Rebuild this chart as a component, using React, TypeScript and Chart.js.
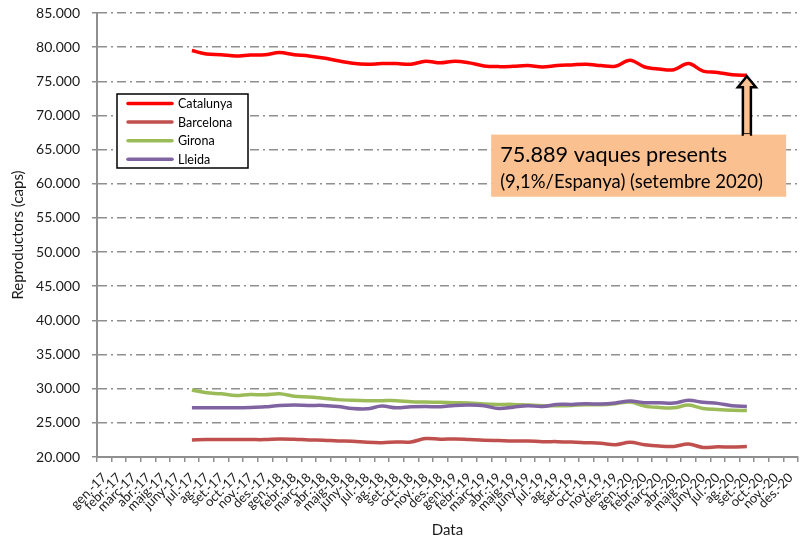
import React, { useEffect, useRef } from "react";
import { Chart, registerables } from "chart.js";

Chart.register(...registerables);

// ---- Data ----
const categories = [
  "gen.-17", "febr.-17", "març-17", "abr.-17", "maig-17", "juny-17", "jul.-17", "ag.-17", "set.-17", "oct.-17", "nov.-17", "des.-17",
  "gen.-18", "febr.-18", "març-18", "abr.-18", "maig-18", "juny-18", "jul.-18", "ag.-18", "set.-18", "oct.-18", "nov.-18", "des.-18",
  "gen.-19", "febr.-19", "març-19", "abr.-19", "maig-19", "juny-19", "jul.-19", "ag.-19", "set.-19", "oct.-19", "nov.-19", "des.-19",
  "gen.-20", "febr.-20", "març-20", "abr.-20", "maig-20", "juny-20", "jul.-20", "ag.-20", "set.-20", "oct.-20", "nov.-20", "des.-20",
];

// series start at jul.-17 (index 6) and end at set.-20 (index 44)
const FIRST_INDEX = 6;

const catalunya = [
  79500, 79000, 78900, 78700, 78850, 78900, 79200, 78900, 78700, 78400,
  78000, 77650, 77500, 77600, 77600, 77500, 77950, 77700, 77950, 77700,
  77250, 77150, 77200, 77300, 77100, 77300, 77400, 77500, 77300, 77200,
  78100, 77100, 76800, 76700, 77600, 76500, 76300, 75950, 75889,
];
const barcelona = [
  22500, 22550, 22550, 22550, 22550, 22550, 22650, 22600, 22500, 22450,
  22350, 22300, 22150, 22100, 22200, 22200, 22700, 22600, 22650, 22550,
  22450, 22400, 22350, 22350, 22250, 22250, 22200, 22100, 22000, 21800,
  22150, 21800, 21600, 21550, 21900, 21400, 21500, 21450, 21550,
];
const girona = [
  29800, 29400, 29250, 29000, 29150, 29100, 29250, 28900, 28800, 28600,
  28400, 28300, 28250, 28250, 28250, 28100, 28050, 28000, 27950, 27900,
  27750, 27700, 27700, 27600, 27500, 27500, 27550, 27650, 27650, 27800,
  28050, 27450, 27250, 27200, 27600, 27100, 26950, 26850, 26800,
];
const lleida = [
  27200, 27200, 27200, 27200, 27250, 27350, 27550, 27600, 27550, 27550,
  27400, 27100, 27050, 27450, 27200, 27350, 27400, 27350, 27550, 27600,
  27500, 27100, 27300, 27500, 27400, 27700, 27700, 27800, 27750, 27900,
  28200, 27950, 27950, 27900, 28300, 28000, 27850, 27500, 27400,
];

const seriesNames = ["Catalunya", "Barcelona", "Girona", "Lleida"];
const seriesColors = ["#FF0000", "#C0504D", "#9BBB59", "#8064A2"];
const seriesValues = [catalunya, barcelona, girona, lleida];

const Y_MIN = 20000;
const Y_MAX = 85000;
const Y_STEP = 5000;

const annotationLines = ["75.889 vaques presents", "(9,1%/Espanya) (setembre 2020)"];
// annotation box in data space (category index / value)
const ANNOT_BOX = { x0: 26.49, x1: 46.69, yTop: 67200, yBottom: 58100 };
const ANNOT_TARGET_INDEX = FIRST_INDEX + catalunya.length - 1;

const FONT = "Lato, 'Open Sans', sans-serif";

function pad(values: number[]): (number | null)[] {
  const out: (number | null)[] = categories.map(() => null);
  values.forEach((v, i) => (out[FIRST_INDEX + i] = v));
  return out;
}

function fmt(v: number): string {
  const th = Math.floor(v / 1000);
  const rest = Math.round(v % 1000);
  return `${th}.${String(rest).padStart(3, "0")}`;
}

const overlayPlugin = {
  id: "overlay",
  afterDraw(chart: any) {
    const { ctx, chartArea, scales } = chart;
    const xs = scales.x;
    const ys = scales.y;
    ctx.save();

    // Legend box
    const lx = chartArea.left + 20;
    const ly = chartArea.top + 81;
    const lw = 131;
    const lh = 74;
    ctx.fillStyle = "#ffffff";
    ctx.fillRect(lx, ly, lw, lh);
    ctx.lineWidth = 1.5;
    ctx.strokeStyle = "#000000";
    ctx.strokeRect(lx, ly, lw, lh);
    ctx.font = `12.5px ${FONT}`;
    ctx.textBaseline = "middle";
    ctx.textAlign = "left";
    chart.data.datasets.forEach((ds: any, k: number) => {
      const cy = ly + 9.5 + k * 18.6;
      ctx.strokeStyle = ds.borderColor;
      ctx.lineWidth = 3.5;
      ctx.lineCap = "round";
      ctx.beginPath();
      ctx.moveTo(lx + 11, cy);
      ctx.lineTo(lx + 55, cy);
      ctx.stroke();
      ctx.fillStyle = "#000000";
      ctx.fillText(ds.label, lx + 61, cy + 0.5);
    });

    // Annotation box
    const bx0 = xs.getPixelForValue(ANNOT_BOX.x0);
    const bx1 = xs.getPixelForValue(ANNOT_BOX.x1);
    const by0 = ys.getPixelForValue(ANNOT_BOX.yTop);
    const by1 = ys.getPixelForValue(ANNOT_BOX.yBottom);
    ctx.fillStyle = "#FAC08F";
    ctx.fillRect(bx0, by0, bx1 - bx0, by1 - by0);

    // Arrow from box up to the last Catalunya point
    const tx = xs.getPixelForValue(ANNOT_TARGET_INDEX);
    const ty = ys.getPixelForValue(catalunya[catalunya.length - 1]) + 1;
    ctx.beginPath();
    ctx.moveTo(tx, ty);
    ctx.lineTo(tx + 9, ty + 11);
    ctx.lineTo(tx + 4, ty + 11);
    ctx.lineTo(tx + 4, by0);
    ctx.lineTo(tx - 4, by0);
    ctx.lineTo(tx - 4, ty + 11);
    ctx.lineTo(tx - 9, ty + 11);
    ctx.closePath();
    ctx.fillStyle = "#FAC08F";
    ctx.fill();
    ctx.lineWidth = 2.5;
    ctx.lineJoin = "miter";
    ctx.strokeStyle = "#000000";
    ctx.stroke();
    // cover the arrow base on the box
    ctx.fillStyle = "#FAC08F";
    ctx.fillRect(tx - 3, by0 - 0.5, 6, 3);

    ctx.fillStyle = "#000000";
    ctx.textBaseline = "alphabetic";
    ctx.font = `21.7px ${FONT}`;
    ctx.fillText(annotationLines[0], bx0 + 9, by0 + 27);
    ctx.font = `18.5px ${FONT}`;
    ctx.fillText(annotationLines[1], bx0 + 9, by0 + 53);
    ctx.restore();
  },
};

export default function App() {
  const canvasRef = useRef<HTMLCanvasElement | null>(null);

  useEffect(() => {
    document.body.style.margin = "0";
    const canvas = canvasRef.current;
    if (!canvas) return;
    const gridColor = "#8f8f8f";
    const chart = new Chart(canvas, {
      type: "line",
      data: {
        labels: categories,
        datasets: seriesNames.map((name, k) => ({
          label: name,
          data: pad(seriesValues[k]),
          borderColor: seriesColors[k],
          backgroundColor: seriesColors[k],
          borderWidth: 3.5,
          pointRadius: 0,
          tension: 0.35,
          fill: false,
          spanGaps: false,
          order: 3 - k,
        })),
      },
      options: {
        responsive: false,
        animation: false,
        events: [],
        layout: { padding: { left: 0, top: 13, right: 4, bottom: 0 } },
        plugins: {
          legend: { display: false },
          tooltip: { enabled: false },
          title: { display: false },
        },
        scales: {
          x: {
            type: "category",
            offset: true,
            grid: {
              display: true,
              drawOnChartArea: false,
              drawTicks: true,
              tickLength: 5,
              offset: true,
              color: gridColor,
              lineWidth: 1.5,
            },
            border: { display: true, color: gridColor, width: 2 },
            ticks: {
              autoSkip: false,
              maxRotation: 45,
              minRotation: 45,
              padding: 8,
              color: "#1a1a1a",
              font: { family: FONT, size: 13 },
            },
            title: {
              display: true,
              text: "Data",
              color: "#1a1a1a",
              font: { family: FONT, size: 15 },
              padding: { top: 0, bottom: 3 },
            },
            afterFit: (scale: any) => {
              scale.height = 85;
              scale.paddingLeft = 0;
              scale.paddingRight = 0;
            },
          },
          y: {
            min: Y_MIN,
            max: Y_MAX,
            grid: {
              color: gridColor,
              lineWidth: 1.5,
              tickLength: 5,
              tickBorderDash: [],
              tickColor: gridColor,
            },
            border: { display: true, color: gridColor, width: 2, dash: [9, 4, 2, 4] },
            ticks: {
              stepSize: Y_STEP,
              padding: 12,
              color: "#1a1a1a",
              font: { family: FONT, size: 14 },
              callback: (v: any) => fmt(Number(v)),
            },
            title: {
              display: true,
              text: "Reproductors (caps)",
              color: "#1a1a1a",
              font: { family: FONT, size: 15 },
              padding: { top: 9, bottom: 0 },
            },
            afterFit: (scale: any) => {
              scale.width = 97;
              scale.paddingTop = 0;
              scale.paddingBottom = 0;
            },
          },
        },
      } as any,
      plugins: [overlayPlugin],
    });
    return () => chart.destroy();
  }, []);

  return (
    <div style={{ width: 802, height: 542 }}>
      <canvas ref={canvasRef} width={802} height={542} style={{ display: "block" }} />
    </div>
  );
}
